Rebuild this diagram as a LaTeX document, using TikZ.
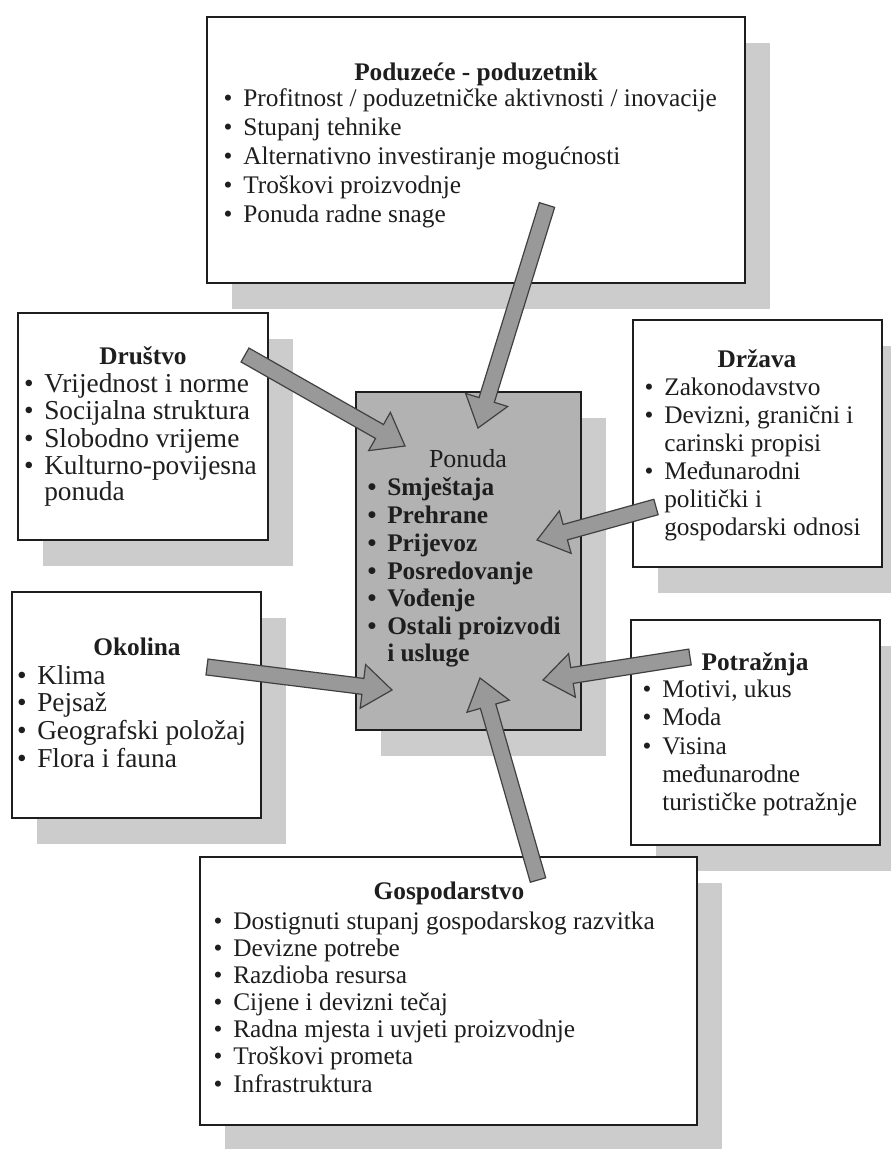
\documentclass[tikz,border=0pt]{standalone}
\usepackage{fontspec}
\setmainfont{Liberation Serif}
\usetikzlibrary{calc,shadows,fit}
\definecolor{shadowgray}{HTML}{CCCCCC}
\definecolor{centerfill}{HTML}{B2B2B2}
\definecolor{arrowfill}{HTML}{999999}
\definecolor{inkc}{HTML}{1E1E1E}
\newcommand\bul{\llap{\textbullet\hspace{8pt}}}
\newcommand\blockarrow[2]{%
  \coordinate (#1h) at ($(#2)!22pt!(#1)$);
  \filldraw[arrowsty] ($(#1)!6pt!90:(#2)$) -- ($(#1h)!6pt!90:(#2)$) -- ($(#1h)!16.5pt!90:(#2)$) -- (#2)
    -- ($(#1h)!16.5pt!-90:(#2)$) -- ($(#1h)!6pt!-90:(#2)$) -- ($(#1)!6pt!-90:(#2)$) -- cycle;}
\begin{document}
\begin{tikzpicture}[x=0.75pt,y=-0.75pt,
  box/.style={draw=inkc, line width=1.2pt, fill=white, inner sep=0pt,
    general shadow={fill=shadowgray, shadow xshift=18.75pt, shadow yshift=-19.5pt}},
  cbox/.style={box, fill=centerfill},
  ttl/.style={anchor=base, inner sep=0pt, font=\fontsize{19}{21}\selectfont\bfseries, text=inkc},
  ctl/.style={anchor=base, inner sep=0pt, font=\fontsize{19.5}{21}\selectfont, text=inkc},
  itm/.style={anchor=base west, inner sep=0pt, font=\fontsize{19}{21}\selectfont, text=inkc},
  bigitm/.style={itm, font=\fontsize{20.5}{22}\selectfont},
  bitm/.style={itm, font=\fontsize{19}{21}\selectfont\bfseries},
  arrowsty/.style={fill=arrowfill, draw=inkc!85, line width=0.9pt, line join=miter}]
\useasboundingbox (0,0) rectangle (890,1149);
\fill[white] (0,0) rectangle (890,1149);
% boxes
\node[box, fit={(207,17) (745,283)}] (top) {};
\node[box, fit={(18,313) (268,540)}] (dru) {};
\node[box, fit={(633,320) (882,567)}] (drz) {};
\node[cbox, fit={(356,392) (581,730)}] (pon) {};
\node[box, fit={(12,592) (261,818)}] (oko) {};
\node[box, fit={(631,620) (880,845)}] (pot) {};
\node[box, fit={(200,857) (697,1125)}] (gos) {};
% Poduzece
\node[ttl] (topT) at (476,80) {Poduzeće - poduzetnik};
\node[itm] (top1) at (243,106) {\bul Profitnost / poduzetničke aktivnosti / inovacije};
\node[itm] (top2) at (243,135) {\bul Stupanj tehnike};
\node[itm] (top3) at (243,164) {\bul Alternativno investiranje mogućnosti};
\node[itm] (top4) at (243,193) {\bul Troškovi proizvodnje};
\node[itm] (top5) at (243,222) {\bul Ponuda radne snage};
% Drustvo
\node[ttl] (druT) at (143,364) {Društvo};
\node[bigitm] (dru1) at (44,392) {\bul Vrijednost i norme};
\node[bigitm] (dru2) at (44,419) {\bul Socijalna struktura};
\node[bigitm] (dru3) at (44,447) {\bul Slobodno vrijeme};
\node[bigitm] (dru4) at (44,474) {\bul Kulturno-povijesna};
\node[bigitm] (dru5) at (44,500) {ponuda};
% Drzava
\node[ttl] (drzT) at (757,367) {Država};
\node[itm] (drz1) at (664,395) {\bul Zakonodavstvo};
\node[itm] (drz2) at (664,423) {\bul Devizni, granični i};
\node[itm] (drz3) at (664,451) {carinski propisi};
\node[itm] (drz4) at (664,479) {\bul Međunarodni};
\node[itm] (drz5) at (664,507) {politički i};
\node[itm] (drz6) at (664,535) {gospodarski odnosi};
% Ponuda
\node[ctl] (ponT) at (468,467) {Ponuda};
\node[bitm] (pon1) at (387,495) {\bul Smještaja};
\node[bitm] (pon2) at (387,523) {\bul Prehrane};
\node[bitm] (pon3) at (387,551) {\bul Prijevoz};
\node[bitm] (pon4) at (387,579) {\bul Posredovanje};
\node[bitm] (pon5) at (387,606) {\bul Vođenje};
\node[bitm] (pon6) at (387,634) {\bul Ostali proizvodi};
\node[bitm] (pon7) at (387,661) {i usluge};
% Okolina
\node[ttl] (okoT) at (137,655) {Okolina};
\node[bigitm] (oko1) at (37,684) {\bul Klima};
\node[bigitm] (oko2) at (37,711) {\bul Pejsaž};
\node[bigitm] (oko3) at (37,739) {\bul Geografski položaj};
\node[bigitm] (oko4) at (37,767) {\bul Flora i fauna};
% Potraznja
\node[ttl] (potT) at (755,670) {Potražnja};
\node[itm] (pot1) at (662,697) {\bul Motivi, ukus};
\node[itm] (pot2) at (662,725) {\bul Moda};
\node[itm] (pot3) at (662,754) {\bul Visina};
\node[itm] (pot4) at (662,782) {međunarodne};
\node[itm] (pot5) at (662,810) {turističke potražnje};
% Gospodarstvo
\node[ttl] (gosT) at (449,899) {Gospodarstvo};
\node[itm] (gos1) at (233,929) {\bul Dostignuti stupanj gospodarskog razvitka};
\node[itm] (gos2) at (233,956) {\bul Devizne potrebe};
\node[itm] (gos3) at (233,983) {\bul Razdioba resursa};
\node[itm] (gos4) at (233,1010) {\bul Cijene i devizni tečaj};
\node[itm] (gos5) at (233,1037) {\bul Radna mjesta i uvjeti proizvodnje};
\node[itm] (gos6) at (233,1064) {\bul Troškovi prometa};
\node[itm] (gos7) at (233,1092) {\bul Infrastruktura};
% arrows
\coordinate (aTopS) at (547,205);  \coordinate (aTopT) at (478,428);
\coordinate (aDruS) at (245,355);  \coordinate (aDruT) at (405,446);
\coordinate (aDrzS) at (656,507);  \coordinate (aDrzT) at (537,540);
\coordinate (aOkoS) at (207,667);  \coordinate (aOkoT) at (392,690);
\coordinate (aPotS) at (690,657);  \coordinate (aPotT) at (543,680);
\coordinate (aGosS) at (538,880);  \coordinate (aGosT) at (480,678);
\blockarrow{aTopS}{aTopT}
\blockarrow{aDruS}{aDruT}
\blockarrow{aDrzS}{aDrzT}
\blockarrow{aOkoS}{aOkoT}
\blockarrow{aPotS}{aPotT}
\blockarrow{aGosS}{aGosT}
\end{tikzpicture}
\end{document}
